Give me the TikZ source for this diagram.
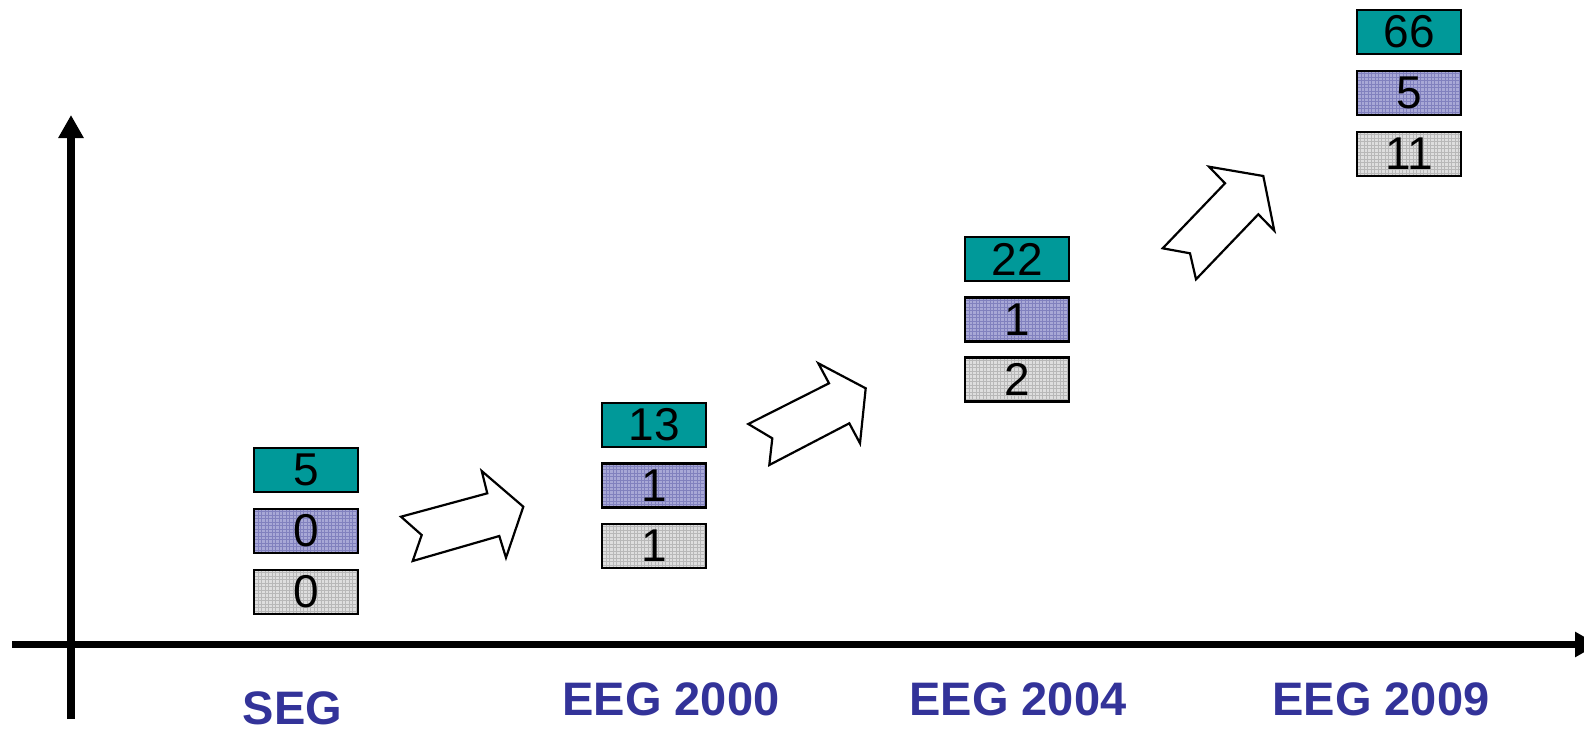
\documentclass[tikz,border=0pt]{standalone}
\usepackage{fontspec}
\setmainfont{Liberation Sans}
\usetikzlibrary{arrows.meta}
\definecolor{tealc}{RGB}{0,153,153}
\definecolor{purpc}{RGB}{168,168,214}
\definecolor{purpl}{RGB}{120,120,185}
\definecolor{grayc}{RGB}{222,222,222}
\definecolor{grayl}{RGB}{175,175,175}
\definecolor{labc}{RGB}{51,51,153}
\tikzset{
  box/.style={draw=black, line width=2.2pt, minimum width=104pt, minimum height=44pt, inner sep=0pt,
    font=\fontsize{46}{46}\selectfont},
  tealbox/.style={box, fill=tealc},
  purpbox/.style={box, fill=purpc, path picture={
      \draw[purpl, line width=0.7pt, opacity=0.8] ([shift={(-2pt,2pt)}]path picture bounding box.north west) grid[step=3.5pt] ([shift={(2pt,-2pt)}]path picture bounding box.south east);}},
  graybox/.style={box, fill=grayc, path picture={
      \draw[grayl, line width=0.7pt, opacity=0.8] ([shift={(-2pt,2pt)}]path picture bounding box.north west) grid[step=3.5pt] ([shift={(2pt,-2pt)}]path picture bounding box.south east);}},
  axis/.style={line width=7.5pt, -{Triangle[width=24pt,length=23pt]}},
  hollow/.style={draw=black, fill=white, line width=2.2pt, line join=miter},
  lab/.style={font=\fontsize{47}{47}\selectfont\bfseries, text=labc, inner sep=0pt}
}
\begin{document}
\begin{tikzpicture}[x=1pt,y=-1pt]
\useasboundingbox (0,0) rectangle (1584,734);
% axes
\coordinate (xs) at (12,644.5);
\coordinate (xe) at (1598,644.5);
\coordinate (ys) at (71,719);
\coordinate (ye) at (71,115);
\draw[axis] (xs) -- (xe);
\draw[axis] (ys) -- (ye);
% SEG
\node[tealbox] (s1) at (306,470) {5};
\node[purpbox] (s2) at (306,531) {0};
\node[graybox] (s3) at (306,592) {0};
% EEG 2000
\node[tealbox] (a1) at (654,425) {13};
\node[purpbox] (a2) at (654,485.5) {1};
\node[graybox] (a3) at (654,546) {1};
% EEG 2004
\node[tealbox] (b1) at (1017,259) {22};
\node[purpbox] (b2) at (1017,319.5) {1};
\node[graybox] (b3) at (1017,379.5) {2};
% EEG 2009
\node[tealbox] (c1) at (1409,32) {66};
\node[purpbox] (c2) at (1409,93) {5};
\node[graybox] (c3) at (1409,154) {11};
% hollow arrows
\draw[hollow] (401,516.7) -- (421.7,535) -- (412.7,561) -- (499.3,536) -- (506,557.7) -- (523.3,506.7) -- (481.7,471) -- (487.3,493.3) -- cycle;
\draw[hollow] (748.3,424) -- (772.3,438.3) -- (769.3,465) -- (849.3,423.3) -- (860,443.3) -- (865.7,388.3) -- (818.3,363.3) -- (829,383.3) -- cycle;
\draw[hollow] (1162.7,248.3) -- (1190,253.3) -- (1196,279.3) -- (1258.3,214.3) -- (1274.3,230.7) -- (1263.3,176) -- (1209,166.7) -- (1225,183.3) -- cycle;
% labels
\node[lab] (l0) at (292.5,708) {SEG};
\node[lab] (l1) at (671,699.5) {EEG 2000};
\node[lab] (l2) at (1018,699.5) {EEG 2004};
\node[lab] (l3) at (1381,699.5) {EEG 2009};
\end{tikzpicture}
\end{document}
